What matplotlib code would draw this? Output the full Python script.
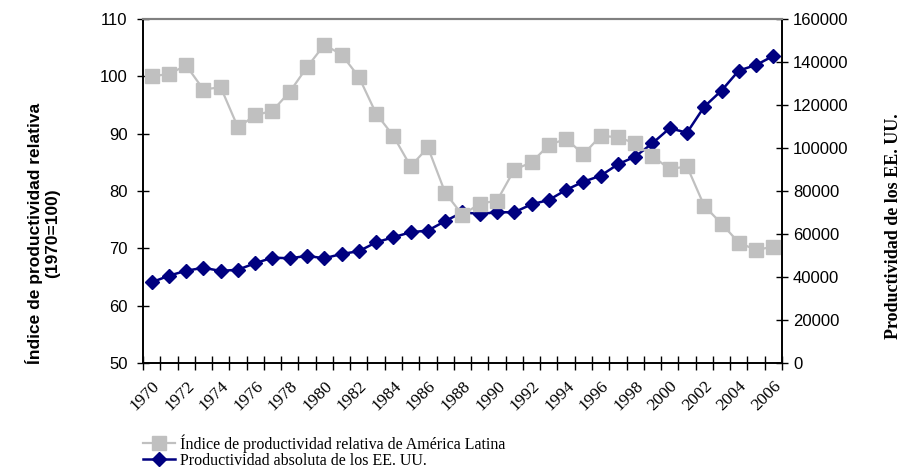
import matplotlib
matplotlib.use('Agg')
import matplotlib.pyplot as plt
import numpy as np

# values
years = list(range(1970, 2007))
indice_al = [100.0, 100.4, 101.9, 97.7, 98.1, 91.1, 93.2, 94.0, 97.3, 101.6,
             105.5, 103.8, 99.9, 93.5, 89.6, 84.3, 87.6, 79.7, 75.8, 77.8,
             78.3, 83.7, 85.0, 88.0, 89.1, 86.4, 89.6, 89.4, 88.3, 86.1,
             83.8, 84.3, 77.4, 74.3, 71.0, 69.7, 70.3]
prod_eeuu = [37500, 40600, 42900, 44300, 42800, 43400, 46400, 49000, 48700, 49800,
             48700, 50700, 52000, 56100, 58500, 60800, 61600, 66000, 70100, 69300,
             70100, 70100, 73800, 75800, 80500, 84300, 87100, 92400, 96000, 102200,
             109200, 107100, 119200, 126700, 136000, 138600, 142800]
year_labels = [str(y) for y in years[::2]]

GRAY = '#C0C0C0'
NAVY = '#000080'
SANS = ['Liberation Sans', 'DejaVu Sans']
SERIF = ['Liberation Serif', 'DejaVu Serif']

fig = plt.figure(figsize=(9.06, 4.70), dpi=100)
ax = fig.add_axes([0.1578, 0.2277, 0.7053, 0.7319])
ax2 = ax.twinx()

x = np.arange(len(years))
l1, = ax.plot(x, indice_al, '-s', color=GRAY, lw=1.6, ms=9.5, mec=GRAY, zorder=2)
l2, = ax2.plot(x, prod_eeuu, '-D', color=NAVY, lw=1.8, ms=7.5, mec=NAVY, zorder=3)

ax.set_xlim(-0.5, len(years) - 0.5)
ax.set_ylim(50, 110)
ax.set_yticks(range(50, 111, 10))
ax2.set_ylim(0, 160000)
ax2.set_yticks(range(0, 160001, 20000))

# category axis: tick marks between categories, labels every two years
ax.set_xticks(np.arange(-0.5, len(years), 1.0), minor=True)
ax.set_xticks(x[::2])
ax.set_xticklabels(year_labels, rotation=45, ha='right', va='top',
                   rotation_mode='anchor', family=SERIF, fontsize=12.5)
ax.tick_params(axis='x', which='major', length=0, pad=11)
ax.tick_params(axis='x', which='minor', direction='inout', length=10, width=1)
ax.tick_params(axis='y', direction='inout', length=8, width=1, labelsize=12, pad=7)
ax2.tick_params(axis='y', direction='inout', length=8, width=1, labelsize=12, pad=4)
for lab in ax.get_yticklabels() + ax2.get_yticklabels():
    lab.set_family(SANS)

ax.patch.set_visible(False)
ax.set_zorder(ax2.get_zorder() + 1)
for a in (ax, ax2):
    a.spines['top'].set_color('#808080')
    a.spines['top'].set_linewidth(1.5)
    for s in ('left', 'right', 'bottom'):
        a.spines[s].set_linewidth(1.2)

fig.text(0.047, 1 - 233 / 470, 'Índice de productividad relativa\n(1970=100)',
         rotation=90, ha='center', va='center', fontsize=12.5,
         fontweight='bold', family=SANS, linespacing=1.15)
fig.text(0.986, 1 - 226 / 470, 'Productividad de los EE. UU.',
         rotation=90, ha='center', va='center', fontsize=13,
         fontweight='bold', family=SERIF)

fig.legend([l1, l2], ['Índice de productividad relativa de América Latina',
                      'Productividad absoluta de los EE. UU.'],
           loc='upper left', bbox_to_anchor=(0.147, 0.096), frameon=False,
           prop={'family': SERIF, 'size': 11.5}, handlelength=2.0,
           handletextpad=0.3, labelspacing=0.0, borderpad=0.1)

fig.savefig('out.png', dpi=100)
